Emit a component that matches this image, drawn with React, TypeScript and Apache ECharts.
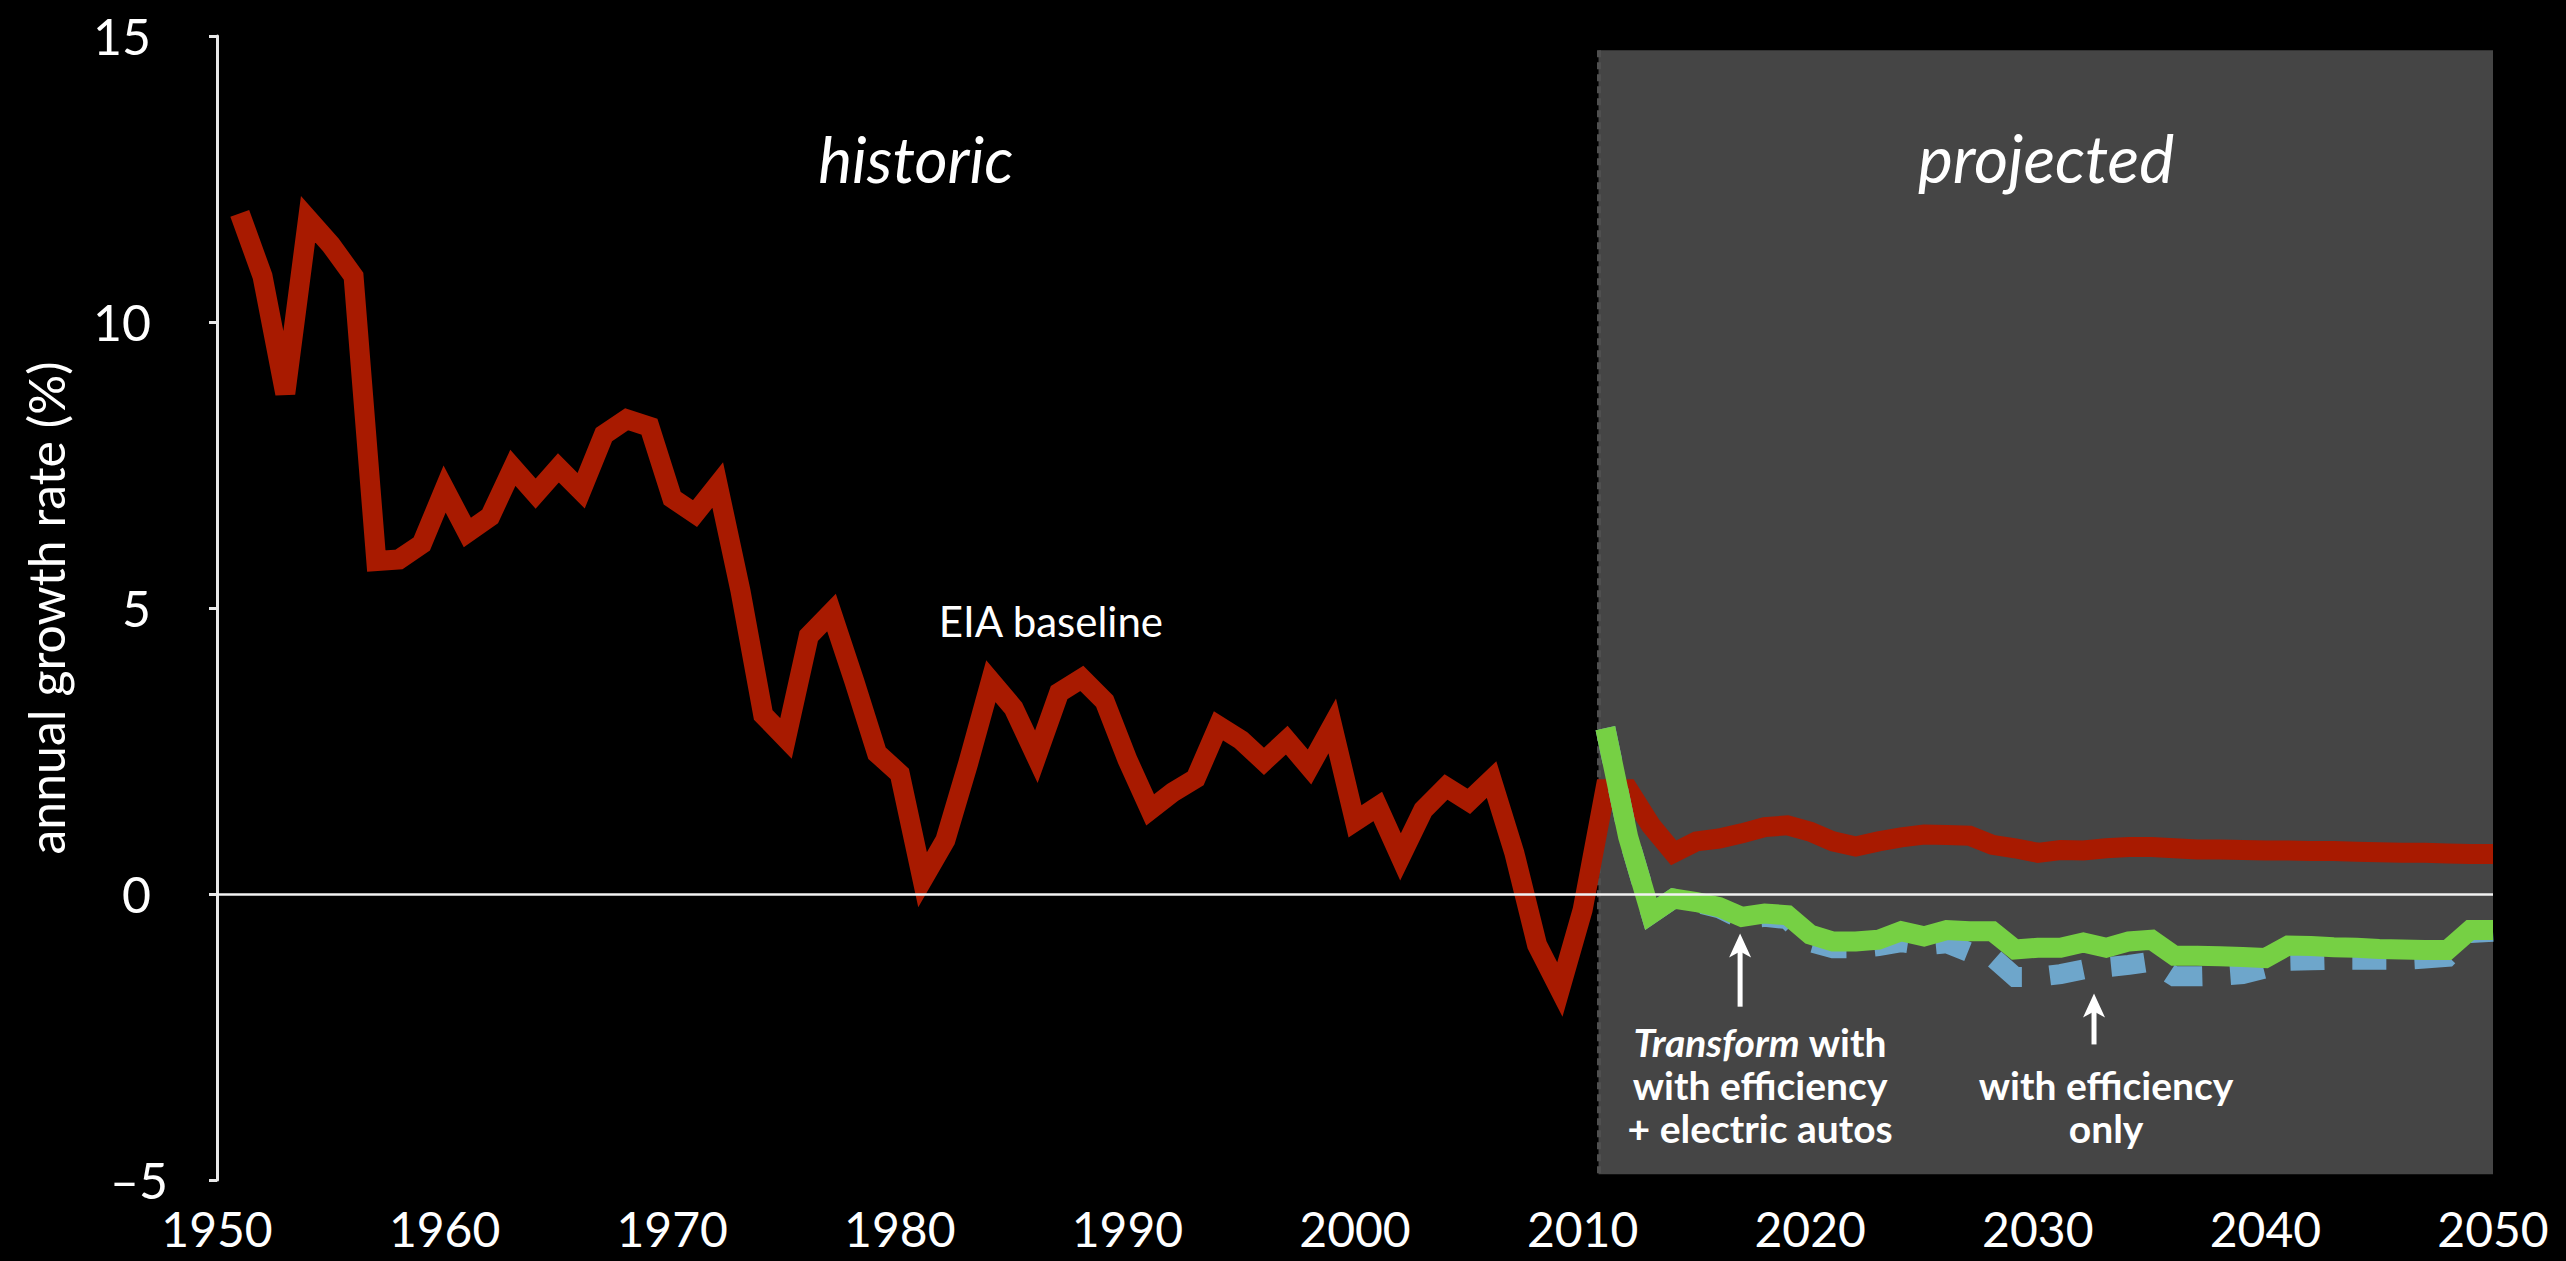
import { useEffect, useRef } from "react";
import * as echarts from "echarts";

// ---- data -------------------------------------------------------------
// Annual growth rate (%), EIA baseline, one value per year from 1951 to 2050
const HIST_START = 1951;
const baselineGrowth = [
  11.9, 10.8, 8.75, 11.8, 11.35, 10.8, 5.82, 5.85, 6.12, 7.08, // 1951-1960
  6.32, 6.6, 7.45, 7.0, 7.45, 7.05, 8.03, 8.3, 8.17, 6.92, // 1961-1970
  6.65, 7.15, 5.3, 3.13, 2.72, 4.51, 4.92, 3.72, 2.46, 2.1, // 1971-1980
  0.25, 0.94, 2.28, 3.72, 3.25, 2.4, 3.52, 3.77, 3.37, 2.35, // 1981-1990
  1.47, 1.78, 2.02, 2.94, 2.69, 2.32, 2.69, 2.22, 2.94, 1.27, // 1991-2000
  1.53, 0.65, 1.47, 1.87, 1.62, 2.0, 0.72, -0.89, -1.67, -0.28, // 2001-2010
  1.83, 1.83, 1.2, 0.72, 0.92, 0.97, 1.06, 1.17, 1.2, 1.09, // 2011-2020
  0.92, 0.83, 0.92, 0.99, 1.04, 1.03, 1.02, 0.86, 0.8, 0.72, // 2021-2030
  0.77, 0.76, 0.8, 0.82, 0.82, 0.8, 0.78, 0.78, 0.77, 0.76, // 2031-2040
  0.76, 0.75, 0.75, 0.74, 0.73, 0.72, 0.72, 0.71, 0.7, 0.7, // 2041-2050
];

// Projected scenarios, 2011 to 2050
const PROJ_START = 2011;
const transformGrowth = [
  2.9, 1.0, -0.35, -0.08, -0.14, -0.23, -0.4, -0.34, -0.37, -0.71, // 2011-2020
  -0.83, -0.83, -0.8, -0.65, -0.74, -0.63, -0.65, -0.65, -0.97, -0.94, // 2021-2030
  -0.94, -0.85, -0.94, -0.83, -0.8, -1.08, -1.08, -1.09, -1.1, -1.12, // 2031-2040
  -0.9, -0.91, -0.93, -0.94, -0.96, -0.97, -0.98, -0.98, -0.63, -0.63, // 2041-2050
];
const efficiencyGrowth = [
  2.9, 1.0, -0.35, -0.08, -0.15, -0.25, -0.44, -0.4, -0.44, -0.84, // 2011-2020
  -0.95, -0.95, -0.91, -0.84, -0.9, -0.86, -1.02, -1.1, -1.45, -1.45, // 2021-2030
  -1.4, -1.32, -1.28, -1.24, -1.18, -1.44, -1.44, -1.43, -1.4, -1.3, // 2031-2040
  -1.17, -1.16, -1.15, -1.15, -1.15, -1.15, -1.13, -1.1, -0.68, -0.66, // 2041-2050
];

// Axes
const X_MIN = 1950;
const X_MAX = 2050;
const X_STEP = 10;
const Y_MIN = -5;
const Y_MAX = 15;
const Y_STEP = 5;

// Shaded "projected" period
const PANEL_START = 2010.7;
const PANEL_TOP = 14.75;
const PANEL_BOTTOM = -4.9;

// ---- styling ----------------------------------------------------------
const FONT = 'Lato, "Open Sans", sans-serif';
const RED = "#a81a00";
const GREEN = "#76d044";
const BLUE = "#6ea6cb";
const PANEL = "#454545";
const AXIS = "#e8e8e8";
const LINE_W = 20;

const toPairs = (start: number, values: number[]) =>
  values.map((v, i) => [start + i, v]);

function buildOption() {
  const lineBase = {
    type: "line",
    showSymbol: false,
    symbol: "none",
    silent: true,
  };
  return {
    animation: false,
    backgroundColor: "#000",
    grid: { left: 217, right: 73, top: 36, bottom: 81 },
    xAxis: {
      type: "value",
      min: X_MIN,
      max: X_MAX,
      interval: X_STEP,
      axisLine: { show: false },
      axisTick: { show: false },
      splitLine: { show: false },
      axisLabel: {
        color: "#fff",
        fontFamily: FONT,
        fontSize: 48,
        margin: 24,
        formatter: (v: number) => String(v),
      },
    },
    yAxis: {
      type: "value",
      min: Y_MIN,
      max: Y_MAX,
      interval: Y_STEP,
      name: "annual growth rate (%)",
      nameLocation: "middle",
      nameGap: 146,
      nameTextStyle: { color: "#fff", fontFamily: FONT, fontSize: 50 },
      axisLine: { show: true, lineStyle: { color: AXIS, width: 3 } },
      axisTick: { show: true, length: 8, lineStyle: { color: AXIS, width: 3 } },
      splitLine: { show: false },
      axisLabel: {
        margin: 49,
        formatter: (v: number) => (v < 0 ? `{n|\u2013${-v}}` : `{p|${v}}`),
        rich: {
          n: { color: "#fff", fontFamily: FONT, fontSize: 50 },
          p: { color: "#fff", fontFamily: FONT, fontSize: 50, padding: [0, 17, 0, 0] },
        },
      },
    },
    series: [
      {
        ...lineBase,
        name: "period",
        data: [],
        z: 1,
        markArea: {
          silent: true,
          itemStyle: { color: PANEL },
          data: [[{ coord: [PANEL_START, PANEL_TOP] }, { coord: [X_MAX, PANEL_BOTTOM] }]],
        },
        markLine: {
          silent: true,
          z: 1,
          symbol: ["none", "none"],
          label: { show: false },
          lineStyle: { color: "#4f4f4f", width: 4, type: [7, 5] },
          data: [[{ coord: [PANEL_START, PANEL_TOP] }, { coord: [PANEL_START, PANEL_BOTTOM] }]],
        },
      },
      {
        ...lineBase,
        name: "EIA baseline",
        z: 2,
        data: toPairs(HIST_START, baselineGrowth),
        lineStyle: { color: RED, width: LINE_W, join: "miter", miterLimit: 4, cap: "butt" },
      },
      {
        ...lineBase,
        name: "with efficiency only",
        z: 3,
        data: toPairs(PROJ_START, efficiencyGrowth),
        lineStyle: { color: BLUE, width: LINE_W, type: [34, 28], join: "miter", miterLimit: 4, cap: "butt" },
      },
      {
        ...lineBase,
        name: "Transform with efficiency + electric autos",
        z: 4,
        data: toPairs(PROJ_START, transformGrowth),
        lineStyle: { color: GREEN, width: LINE_W, join: "miter", miterLimit: 4, cap: "butt" },
        markLine: {
          silent: true,
          symbol: ["none", "none"],
          label: { show: false },
          lineStyle: { color: "#f2f2f2", width: 2.5, type: "solid" },
          data: [{ yAxis: 0 }],
        },
      },
    ],
  };
}

// Annotation anchors, in data coordinates (year, %); y is the text baseline
const LABEL_HISTORIC = [1980.7, 12.46];
const LABEL_PROJECTED = [2030.36, 12.46];
const LABEL_EIA = [1986.64, 4.5];
const LEFT_NOTE_X = 2017.8;
const RIGHT_NOTE_X = 2033.0;
const NOTE_LINES = [-2.84, -3.58, -4.33];
const ARROW_LEFT = { x: 2016.92, tail: -1.97, tip: -0.69 };
const ARROW_RIGHT = { x: 2032.47, tail: -2.63, tip: -1.74 };

type Px = (x: number, y: number) => number[];

function buildGraphics(px: Px) {
  const label = (
    at: number[],
    text: string,
    size: number,
    weight: string,
    style: string,
    rich?: Record<string, unknown>
  ) => {
    const [x, y] = px(at[0], at[1]);
    return {
      type: "text",
      z: 10,
      silent: true,
      x,
      y: y - 0.36 * size,
      style: {
        text,
        fill: "#fff",
        fontFamily: FONT,
        fontSize: size,
        fontWeight: weight,
        fontStyle: style,
        lineHeight: size,
        align: "center",
        verticalAlign: "middle",
        rich,
      },
    };
  };

  const arrow = (a: { x: number; tail: number; tip: number }) => {
    const [ax, tailY] = px(a.x, a.tail);
    const [, tipY] = px(a.x, a.tip);
    return [
      {
        type: "line",
        z: 10,
        silent: true,
        shape: { x1: ax, y1: tailY, x2: ax, y2: tipY + 16 },
        style: { stroke: "#fff", lineWidth: 5 },
      },
      {
        type: "polygon",
        z: 10,
        silent: true,
        shape: {
          points: [
            [ax, tipY],
            [ax - 11, tipY + 24],
            [ax, tipY + 18],
            [ax + 11, tipY + 24],
          ],
        },
        style: { fill: "#fff" },
      },
    ];
  };

  const noteSize = 39;
  const italicRich = {
    i: { fill: "#fff", fontFamily: FONT, fontSize: noteSize, fontWeight: "bold", fontStyle: "italic", lineHeight: noteSize },
    b: { fill: "#fff", fontFamily: FONT, fontSize: noteSize, fontWeight: "bold", lineHeight: noteSize },
  };

  return [
    label(LABEL_HISTORIC, "historic", 64, "normal", "italic"),
    label(LABEL_PROJECTED, "projected", 66, "normal", "italic"),
    label(LABEL_EIA, "EIA baseline", 42, "normal", "normal"),
    label([LEFT_NOTE_X, NOTE_LINES[0]], "{i|Transform}{b| with}", noteSize, "bold", "normal", italicRich),
    label([LEFT_NOTE_X, NOTE_LINES[1]], "with efficiency", noteSize, "bold", "normal"),
    label([LEFT_NOTE_X, NOTE_LINES[2]], "+ electric autos", noteSize, "bold", "normal"),
    label([RIGHT_NOTE_X, NOTE_LINES[1]], "with efficiency", noteSize, "bold", "normal"),
    label([RIGHT_NOTE_X, NOTE_LINES[2]], "only", noteSize, "bold", "normal"),
    ...arrow(ARROW_LEFT),
    ...arrow(ARROW_RIGHT),
  ];
}

export default function App() {
  const ref = useRef<HTMLDivElement>(null);

  useEffect(() => {
    if (!ref.current) return;
    const chart = echarts.init(ref.current, null, { renderer: "svg" });
    chart.setOption(buildOption() as echarts.EChartsOption);
    const px: Px = (x, y) =>
      chart.convertToPixel({ gridIndex: 0 }, [x, y]) as number[];
    chart.setOption({ graphic: buildGraphics(px) } as echarts.EChartsOption);
    return () => chart.dispose();
  }, []);

  return (
    <div
      ref={ref}
      style={{
        position: "fixed",
        left: 0,
        top: 0,
        width: "100vw",
        height: "100vh",
        background: "#000",
      }}
    />
  );
}
